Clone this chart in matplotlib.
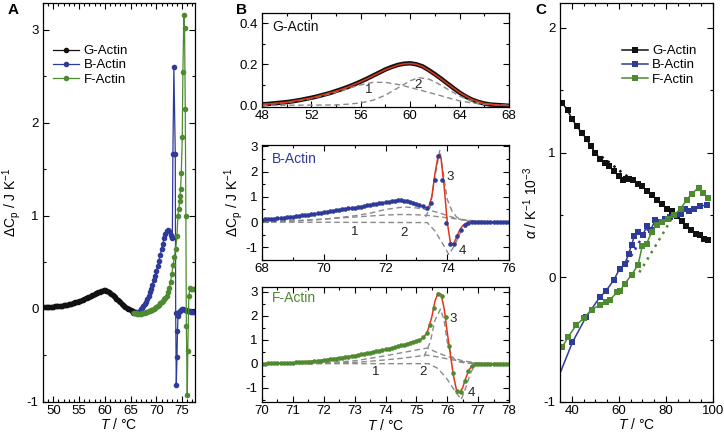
import numpy as np
import matplotlib
matplotlib.use('Agg')
import matplotlib.pyplot as plt
from matplotlib.ticker import MultipleLocator, FormatStrFormatter

plt.rcParams['font.family'] = ['Liberation Sans', 'DejaVu Sans']
plt.rcParams['mathtext.fontset'] = 'custom'
plt.rcParams['mathtext.rm'] = 'Liberation Sans'
plt.rcParams['mathtext.it'] = 'Liberation Sans:italic'
plt.rcParams['mathtext.bf'] = 'Liberation Sans:bold'
plt.rcParams['axes.unicode_minus'] = False
plt.rcParams['font.size'] = 9.5

BLACK = '#111111'
BLUE = '#2e3b98'
GREEN = '#4e8a30'
RED = '#e2361a'
GREY = '#8a8a8a'

# ---------------- Panel A data ----------------
a_g_T = [48.25, 48.5, 48.75, 49.0, 49.25, 49.5, 49.75, 50.0, 50.25, 50.5, 50.75, 51.0,
         51.25, 51.5, 51.75, 52.0, 52.25, 52.5, 52.75, 53.0, 53.25, 53.5, 53.75, 54.0,
         54.25, 54.5, 54.75, 55.0, 55.25, 55.5, 55.75, 56.0, 56.25, 56.5, 56.75, 57.0,
         57.25, 57.5, 57.75, 58.0, 58.25, 58.5, 58.75, 59.0, 59.25, 59.5, 59.75, 60.0,
         60.25, 60.5, 60.75, 61.0, 61.25, 61.5, 61.75, 62.0, 62.25, 62.5, 62.75, 63.0,
         63.25, 63.5, 63.75, 64.0, 64.25, 64.5, 64.75, 65.0, 65.25, 65.5, 65.75, 66.0]
a_g_val = [0.020, 0.020, 0.020, 0.021, 0.022, 0.024, 0.025, 0.026, 0.027, 0.028, 0.030, 0.031,
           0.033, 0.035, 0.037, 0.040, 0.042, 0.045, 0.048, 0.051, 0.055, 0.058, 0.062, 0.066,
           0.070, 0.075, 0.080, 0.085, 0.090, 0.096, 0.102, 0.108, 0.114, 0.120, 0.127, 0.134,
           0.141, 0.148, 0.155, 0.162, 0.169, 0.175, 0.181, 0.187, 0.192, 0.196, 0.199, 0.199,
           0.196, 0.191, 0.184, 0.175, 0.164, 0.152, 0.139, 0.126, 0.112, 0.098, 0.084, 0.070,
           0.057, 0.045, 0.033, 0.022, 0.012, 0.003, -0.005, -0.012, -0.018, -0.023, -0.027, -0.030]

a_b_T = [65.5, 65.75, 66.0, 66.25, 66.5, 66.75, 67.0, 67.25, 67.5, 67.75, 68.0, 68.25,
         68.5, 68.75, 69.0, 69.25, 69.5, 69.75, 70.0, 70.25, 70.5, 70.75, 71.0, 71.25,
         71.5, 71.75, 72.0, 72.25, 72.5, 72.75, 73.0, 73.1, 73.21, 73.4, 73.67, 73.75,
         73.87, 74.0, 74.1, 74.2, 74.35, 74.5, 74.75, 75.0, 75.25, 75.5, 75.75, 76.0,
         76.25, 76.5, 76.75, 77.0, 77.25, 77.5]
a_b_val = [-0.04, -0.045, -0.045, -0.04, -0.03, -0.02, -0.005, 0.01, 0.03, 0.05, 0.08, 0.11,
           0.14, 0.18, 0.22, 0.26, 0.31, 0.36, 0.41, 0.46, 0.52, 0.58, 0.64, 0.70,
           0.76, 0.81, 0.84, 0.85, 0.84, 0.80, 0.77, 0.76, 1.67, 2.60, 1.67, -0.04,
           -0.82, -0.52, -0.24, -0.08, -0.03, -0.02, -0.01, 0.0, 0.0, -0.01, -0.01, -0.02,
           -0.02, -0.02, -0.03, -0.03, -0.03, -0.03]

a_f_T = [65.75, 66.0, 66.25, 66.5, 66.75, 67.0, 67.25, 67.5, 67.75, 68.0, 68.25, 68.5,
         68.75, 69.0, 69.25, 69.5, 69.75, 70.0, 70.25, 70.5, 70.75, 71.0, 71.25, 71.5,
         71.75, 72.0, 72.25, 72.5, 72.75, 73.0, 73.25, 73.5, 73.75, 74.0, 74.18, 74.35,
         74.51, 74.6, 74.7, 74.84, 75.03, 75.15, 75.34, 75.47, 75.61, 75.73, 75.82, 76.0,
         76.1, 76.3, 76.55, 76.75, 77.0, 77.25, 77.5]
a_f_val = [-0.04, -0.045, -0.05, -0.05, -0.05, -0.05, -0.048, -0.045, -0.04, -0.035, -0.03, -0.025,
           -0.02, -0.015, -0.01, 0.0, 0.01, 0.02, 0.03, 0.045, 0.06, 0.075, 0.09, 0.11,
           0.12, 0.14, 0.18, 0.23, 0.29, 0.38, 0.47, 0.56, 0.65, 0.78, 1.00, 1.07,
           1.16, 1.22, 1.29, 1.46, 1.85, 2.55, 3.16, 3.02, 2.15, 1.00, -0.18, -0.93,
           -0.45, 0.14, 0.23, 0.22, 0.22, 0.21, 0.21]

# ---------------- Panel B (G-Actin) ----------------
bg_T = [48.0, 48.5, 49.0, 49.5, 50.0, 50.5, 51.0, 51.5, 52.0, 52.5, 53.0, 53.5, 54.0, 54.5,
        55.0, 55.5, 56.0, 56.5, 57.0, 57.5, 58.0, 58.5, 59.0, 59.5, 60.0, 60.5, 61.0, 61.5,
        62.0, 62.5, 63.0, 63.5, 64.0, 64.5, 65.0, 65.5, 66.0, 66.5, 67.0, 67.5, 68.0]
bg_val = [0.005, 0.007, 0.010, 0.013, 0.016, 0.020, 0.025, 0.031, 0.037, 0.044, 0.052, 0.060,
          0.070, 0.080, 0.091, 0.103, 0.116, 0.130, 0.145, 0.160, 0.175, 0.187, 0.197, 0.203,
          0.205, 0.200, 0.190, 0.172, 0.152, 0.130, 0.107, 0.084, 0.062, 0.043, 0.028, 0.017,
          0.009, 0.004, 0.002, 0.000, -0.002]
bg_fit_T = [48, 50, 52, 54, 55, 56, 57, 58, 59, 59.5, 60, 60.5, 61, 62, 63, 64, 65, 66, 67, 68]
bg_fit_val = [0.004, 0.015, 0.036, 0.069, 0.090, 0.115, 0.144, 0.174, 0.196, 0.202, 0.204,
              0.200, 0.189, 0.151, 0.106, 0.062, 0.028, 0.009, 0.002, -0.002]
bg_c1_T = [48, 50, 52, 54, 55, 56, 57, 58, 59, 60, 61, 62, 63, 64, 65, 66, 68]
bg_c1_val = [0.004, 0.013, 0.033, 0.064, 0.083, 0.100, 0.112, 0.112, 0.102, 0.087, 0.071,
             0.055, 0.038, 0.022, 0.012, 0.005, 0.0]
bg_c2_T = [48, 54, 55, 56, 57, 58, 59, 60, 60.7, 61.5, 62, 63, 64, 65, 66, 67, 68]
bg_c2_val = [0.0, 0.002, 0.006, 0.012, 0.025, 0.050, 0.085, 0.120, 0.135, 0.128, 0.115,
             0.080, 0.045, 0.020, 0.008, 0.002, 0.0]

# ---------------- Panel B (B-Actin) ----------------
bb_T = [68.0, 68.1, 68.2, 68.3, 68.4, 68.5, 68.6, 68.7, 68.8, 68.9,
        69.0, 69.1, 69.2, 69.3, 69.4, 69.5, 69.6, 69.7, 69.8, 69.9,
        70.0, 70.1, 70.2, 70.3, 70.4, 70.5, 70.6, 70.7, 70.8, 70.9,
        71.0, 71.1, 71.2, 71.3, 71.4, 71.5, 71.6, 71.7, 71.8, 71.9,
        72.0, 72.1, 72.2, 72.3, 72.4, 72.5, 72.6, 72.7, 72.8, 72.9,
        73.0, 73.1, 73.2, 73.33, 73.46, 73.59, 73.71, 73.84, 73.97, 74.1,
        74.22, 74.33, 74.45, 74.57, 74.68, 74.8, 74.9, 75.0, 75.1, 75.2,
        75.3, 75.4, 75.5, 75.6, 75.7, 75.8, 75.9, 76.0]
bb_val = [0.10, 0.11, 0.12, 0.13, 0.14, 0.16, 0.17, 0.18, 0.19, 0.21,
          0.22, 0.24, 0.25, 0.27, 0.28, 0.30, 0.32, 0.33, 0.35, 0.37,
          0.39, 0.41, 0.43, 0.44, 0.46, 0.48, 0.50, 0.52, 0.54, 0.55,
          0.57, 0.59, 0.61, 0.63, 0.66, 0.68, 0.70, 0.72, 0.74, 0.77,
          0.79, 0.81, 0.83, 0.85, 0.86, 0.86, 0.85, 0.83, 0.80, 0.77,
          0.73, 0.68, 0.62, 0.54, 0.77, 1.68, 2.63, 1.68, -0.05, -0.87,
          -0.87, -0.56, -0.30, -0.12, -0.04, -0.01, 0.0, 0.0, 0.0, 0.0,
          0.0, 0.0, 0.0, 0.0, 0.0, 0.0, 0.0, 0.0]
bb_fit_T = [68, 69, 70, 71, 72, 72.5, 73, 73.3, 73.4, 73.5, 73.6, 73.7, 73.75, 73.8, 73.9,
            74.0, 74.1, 74.2, 74.3, 74.4, 74.5, 74.6, 74.8, 75, 76]
bb_fit_val = [0.09, 0.21, 0.38, 0.56, 0.78, 0.85, 0.72, 0.56, 0.60, 1.00, 1.90, 2.60, 2.68,
              2.50, 1.40, 0.0, -0.80, -0.88, -0.60, -0.32, -0.14, -0.05, 0.0, 0.0, 0.0]
bb_c1_T = [68, 69, 70, 71, 71.5, 72, 72.5, 73, 73.4, 73.8, 74.2, 74.6, 75, 75.5, 76]
bb_c1_val = [0.0, 0.05, 0.12, 0.20, 0.24, 0.28, 0.30, 0.29, 0.26, 0.20, 0.14, 0.08, 0.04, 0.01, 0.0]
bb_c2_T = [68, 69, 70, 71, 71.5, 72, 72.6, 73, 73.4, 73.8, 74.2, 74.6, 75, 76]
bb_c2_val = [0.0, 0.04, 0.11, 0.25, 0.35, 0.50, 0.60, 0.56, 0.48, 0.34, 0.18, 0.05, 0.02, 0.0]
bb_c3_T = [73.3, 73.45, 73.6, 73.76, 73.9, 74.0, 74.15, 74.3, 74.5, 74.8, 75.2, 76]
bb_c3_val = [0.20, 0.60, 1.80, 2.85, 1.70, 0.90, 0.45, 0.20, 0.10, 0.04, 0.01, 0.0]
bb_c4_T = [68, 73.35, 73.6, 73.85, 74.05, 74.25, 74.45, 74.65, 76]
bb_c4_val = [0.0, -0.02, -0.35, -0.85, -1.28, -0.90, -0.35, -0.05, 0.0]

# ---------------- Panel B (F-Actin) ----------------
bf_T = [70.0, 70.1, 70.2, 70.3, 70.4, 70.5, 70.6, 70.7, 70.8, 70.9,
        71.0, 71.1, 71.2, 71.3, 71.4, 71.5, 71.6, 71.7, 71.8, 71.9,
        72.0, 72.1, 72.2, 72.3, 72.4, 72.5, 72.6, 72.7, 72.8, 72.9,
        73.0, 73.1, 73.2, 73.3, 73.4, 73.5, 73.6, 73.7, 73.8, 73.9,
        74.0, 74.1, 74.2, 74.3, 74.4, 74.5, 74.6, 74.7, 74.8, 74.9,
        75.0, 75.1, 75.22, 75.34, 75.45, 75.57, 75.7, 75.83, 75.95, 76.07,
        76.18, 76.3, 76.43, 76.56, 76.68, 76.8, 76.9, 77.0, 77.1, 77.2,
        77.3, 77.4, 77.5, 77.6, 77.7, 77.8, 77.9, 78.0]
bf_val = [0.00, 0.00, 0.01, 0.01, 0.01, 0.02, 0.02, 0.03, 0.03, 0.04,
          0.04, 0.05, 0.06, 0.06, 0.07, 0.08, 0.09, 0.11, 0.12, 0.13,
          0.15, 0.16, 0.18, 0.19, 0.21, 0.23, 0.25, 0.27, 0.29, 0.32,
          0.34, 0.36, 0.39, 0.41, 0.44, 0.46, 0.49, 0.52, 0.54, 0.57,
          0.60, 0.63, 0.66, 0.69, 0.72, 0.76, 0.79, 0.83, 0.87, 0.91,
          0.95, 0.99, 1.10, 1.28, 1.62, 2.33, 2.92, 2.83, 1.93, 0.75,
          -0.40, -1.15, -1.20, -0.72, -0.30, -0.08, -0.02, 0.0, 0.0, 0.0,
          0.0, 0.0, 0.0, 0.0, 0.0, 0.0, 0.0, 0.0]
bf_fit_T = [70, 71, 72, 73, 74, 74.5, 75, 75.2, 75.35, 75.5, 75.6, 75.7, 75.8, 75.9, 76.0,
            76.1, 76.2, 76.3, 76.4, 76.5, 76.6, 76.7, 76.8, 77, 78]
bf_fit_val = [0.0, 0.04, 0.15, 0.34, 0.60, 0.76, 0.95, 1.05, 1.30, 1.95, 2.60, 2.95, 2.90,
              2.30, 1.30, 0.40, -0.50, -1.10, -1.22, -1.00, -0.60, -0.28, -0.08, 0.0, 0.0]
bf_c1_T = [70, 72, 73, 73.5, 74, 74.5, 75, 75.3, 75.7, 76, 76.5, 77, 78]
bf_c1_val = [0.0, 0.01, 0.05, 0.10, 0.16, 0.22, 0.30, 0.36, 0.28, 0.20, 0.08, 0.01, 0.0]
bf_c2_T = [70, 72, 73, 73.5, 74, 74.5, 75, 75.35, 75.7, 76, 76.5, 77, 78]
bf_c2_val = [0.0, 0.03, 0.12, 0.22, 0.33, 0.45, 0.57, 0.65, 0.45, 0.30, 0.12, 0.02, 0.0]
bf_c3_T = [75.25, 75.45, 75.6, 75.78, 75.9, 76.0, 76.15, 76.3, 76.6, 77.0, 78.0]
bf_c3_val = [0.30, 0.90, 1.80, 2.28, 1.80, 0.90, 0.30, 0.10, 0.02, 0.0, 0.0]
bf_c4_T = [70, 75.4, 75.7, 76.0, 76.2, 76.45, 76.6, 76.75, 76.9, 78]
bf_c4_val = [0.0, 0.0, -0.20, -0.65, -1.05, -1.50, -1.00, -0.40, -0.05, 0.0]

# ---------------- Panel C data ----------------
c_g_T = [35.9, 38.2, 40.1, 42.2, 44.2, 46.3, 48.1, 50.0, 52.0, 54.0, 55.8, 58.0, 60.0,
         61.8, 63.0, 64.3, 66.1, 68.0, 69.9, 72.1, 74.2, 76.1, 78.2, 80.3, 82.4, 84.6,
         86.7, 88.6, 90.6, 92.6, 94.5, 96.3, 98.0]
c_g_val = [1.40, 1.34, 1.27, 1.21, 1.16, 1.11, 1.05, 1.00, 0.95, 0.92, 0.89, 0.85, 0.81,
           0.78, 0.79, 0.79, 0.78, 0.75, 0.73, 0.69, 0.66, 0.62, 0.59, 0.55, 0.53, 0.49,
           0.45, 0.41, 0.38, 0.35, 0.34, 0.31, 0.30]
c_g_dot_T = [50, 54, 58, 62, 66]
c_g_dot_val = [1.00, 0.95, 0.89, 0.83, 0.78]

c_b_T = [35.0, 40.3, 46.0, 51.9, 54.5, 57.9, 60.4, 62.6, 64.2, 65.4, 66.6, 68.3, 70.2,
         71.9, 73.5, 75.5, 77.5, 79.6, 81.8, 84.0, 86.2, 88.2, 90.0, 91.8, 94.5, 97.3]
c_b_val = [-0.77, -0.52, -0.32, -0.16, -0.11, -0.02, 0.07, 0.11, 0.19, 0.26, 0.33, 0.36,
           0.34, 0.41, 0.38, 0.46, 0.44, 0.47, 0.48, 0.50, 0.51, 0.55, 0.53, 0.55, 0.57, 0.58]
c_b_dot_T = [63.5, 66.5, 69.5, 73.0]
c_b_dot_val = [0.12, 0.21, 0.31, 0.40]

c_f_T = [36.0, 38.4, 42.0, 45.0, 48.4, 52.0, 54.5, 56.2, 59.3, 60.4, 62.6, 65.4, 68.2,
         69.9, 71.8, 73.9, 76.0, 78.5, 81.0, 83.5, 86.2, 88.8, 90.9, 94.0, 95.9, 97.7]
c_f_val = [-0.56, -0.48, -0.38, -0.33, -0.26, -0.22, -0.20, -0.18, -0.12, -0.11, -0.05,
           0.02, 0.10, 0.25, 0.27, 0.36, 0.42, 0.44, 0.47, 0.50, 0.55, 0.62, 0.67, 0.72,
           0.68, 0.64]
c_f_dot_T = [68.7, 72.0, 75.5, 79.0, 82.4]
c_f_dot_val = [0.04, 0.14, 0.25, 0.36, 0.47]

labels = ['G-Actin', 'B-Actin', 'F-Actin']

# ---------------- Figure ----------------
W, H = 724, 433
fig = plt.figure(figsize=(W / 100, H / 100), dpi=100)


def rect(l, t, r, b):
    return [l / W, 1 - b / H, (r - l) / W, (b - t) / H]


def style(ax, xmaj, xmin, ymaj, ymin):
    ax.xaxis.set_major_locator(MultipleLocator(xmaj))
    ax.xaxis.set_minor_locator(MultipleLocator(xmin))
    ax.yaxis.set_major_locator(MultipleLocator(ymaj))
    ax.yaxis.set_minor_locator(MultipleLocator(ymin))
    ax.tick_params(which='both', direction='in', top=True, right=True, labelsize=9.5,
                   width=0.8)
    ax.tick_params(which='major', length=4, pad=3)
    ax.tick_params(axis='x', which='major', pad=2)
    ax.tick_params(which='minor', length=2)
    for s in ax.spines.values():
        s.set_linewidth(0.9)


xlab = r'$T$ / °C'
cplab = 'ΔC$_\\mathrm{p}$ / J K$^{-1}$'

# Panel A
axA = fig.add_axes(rect(43, 3, 195, 402))
axA.plot(a_g_T, a_g_val, '-o', color=BLACK, ms=3, lw=0.9, label=labels[0])
axA.plot(a_b_T, a_b_val, '-o', color=BLUE, ms=3, lw=0.9, label=labels[1])
axA.plot(a_f_T, a_f_val, '-o', color=GREEN, ms=3, lw=0.9, label=labels[2])
axA.set_xlim(48, 77.5)
axA.set_ylim(-1, 3.29)
style(axA, 5, 1, 1, 0.5)
axA.set_xlabel(xlab, fontsize=10, labelpad=0)
axA.set_ylabel(cplab, fontsize=10, labelpad=2.5)
axA.legend(loc='upper left', bbox_to_anchor=(0.066, 0.895), frameon=False, fontsize=9.5,
           handlelength=2.0, handletextpad=0.3, labelspacing=0.15, borderpad=0,
           borderaxespad=0, markerscale=1.0)

# Panel B top
axB1 = fig.add_axes(rect(262, 13, 509, 107))
axB1.plot(bg_T, bg_val, '-', color=BLACK, lw=3.2, solid_capstyle='round')
axB1.plot(bg_c1_T, bg_c1_val, '--', color=GREY, lw=1.0, dashes=(4, 2.5))
axB1.plot(bg_c2_T, bg_c2_val, '--', color=GREY, lw=1.0, dashes=(4, 2.5))
axB1.plot(bg_fit_T, bg_fit_val, '-', color=RED, lw=1.1)
axB1.set_xlim(48, 68)
axB1.set_ylim(-0.008, 0.45)
style(axB1, 4, 2, 0.2, 0.1)
axB1.yaxis.set_major_formatter(FormatStrFormatter('%.1f'))
axB1.text(0.04, 0.85, labels[0], transform=axB1.transAxes, color=BLACK, fontsize=10,
          va='center', ha='left')
axB1.text(56.6, 0.073, '1', fontsize=9.5, ha='center', va='center', color='#222222')
axB1.text(60.6, 0.097, '2', fontsize=9.5, ha='center', va='center', color='#222222')

# Panel B middle
axB2 = fig.add_axes(rect(262, 145, 509, 260))
axB2.plot(bb_c1_T, bb_c1_val, '--', color=GREY, lw=1.0, dashes=(4, 2.5))
axB2.plot(bb_c2_T, bb_c2_val, '--', color=GREY, lw=1.0, dashes=(4, 2.5))
axB2.plot(bb_c3_T, bb_c3_val, '--', color=GREY, lw=1.0, dashes=(4, 2.5))
axB2.plot(bb_c4_T, bb_c4_val, '--', color=GREY, lw=1.0, dashes=(4, 2.5))
axB2.plot(bb_fit_T, bb_fit_val, '-', color=RED, lw=1.1)
axB2.plot(bb_T, bb_val, 'o', color=BLUE, ms=3.3, mew=0)
axB2.set_xlim(68, 76)
axB2.set_ylim(-1.5, 3.05)
style(axB2, 2, 1, 1, 0.5)
axB2.set_ylabel(cplab, fontsize=10, labelpad=0.5)
axB2.text(0.04, 0.88, labels[1], transform=axB2.transAxes, color=BLUE, fontsize=10,
          va='center', ha='left')
for t, v, s in [(71.0, -0.38, '1'), (72.6, -0.42, '2'), (74.1, 1.77, '3'), (74.5, -1.16, '4')]:
    axB2.text(t, v, s, fontsize=9.5, ha='center', va='center', color='#222222')

# Panel B bottom
axB3 = fig.add_axes(rect(262, 287, 509, 402))
axB3.plot(bf_c1_T, bf_c1_val, '--', color=GREY, lw=1.0, dashes=(4, 2.5))
axB3.plot(bf_c2_T, bf_c2_val, '--', color=GREY, lw=1.0, dashes=(4, 2.5))
axB3.plot(bf_c3_T, bf_c3_val, '--', color=GREY, lw=1.0, dashes=(4, 2.5))
axB3.plot(bf_c4_T, bf_c4_val, '--', color=GREY, lw=1.0, dashes=(4, 2.5))
axB3.plot(bf_fit_T, bf_fit_val, '-', color=RED, lw=1.1)
axB3.plot(bf_T, bf_val, 'o', color=GREEN, ms=3.3, mew=0)
axB3.set_xlim(70, 78)
axB3.set_ylim(-1.6, 3.2)
style(axB3, 1, 0.5, 1, 0.5)
axB3.set_xlabel(xlab, fontsize=10, labelpad=1)
axB3.text(0.04, 0.9, labels[2], transform=axB3.transAxes, color=GREEN, fontsize=10,
          va='center', ha='left')
for t, v, s in [(73.67, -0.36, '1'), (75.23, -0.36, '2'), (76.2, 1.86, '3'), (76.77, -1.24, '4')]:
    axB3.text(t, v, s, fontsize=9.5, ha='center', va='center', color='#222222')

# Panel C
axC = fig.add_axes(rect(560, 3, 713, 402))
axC.plot(c_g_dot_T, c_g_dot_val, linestyle=(0, (1, 2)), color=BLACK, lw=1.8)
axC.plot(c_b_dot_T, c_b_dot_val, linestyle=(0, (1, 2)), color=BLUE, lw=1.8)
axC.plot(c_f_dot_T, c_f_dot_val, linestyle=(0, (1, 2)), color=GREEN, lw=1.8)
axC.plot(c_g_T, c_g_val, '-s', color=BLACK, ms=4.6, lw=1.1, mew=0, label=labels[0])
axC.plot(c_b_T, c_b_val, '-s', color=BLUE, ms=4.6, lw=1.1, mew=0,
         markevery=list(range(1, len(c_b_T))), label=labels[1])
axC.plot(c_f_T, c_f_val, '-s', color=GREEN, ms=4.6, lw=1.1, mew=0, label=labels[2])
axC.set_xlim(35, 100)
axC.set_ylim(-1, 2.2)
style(axC, 20, 5, 1, 0.5)
axC.set_xlabel(xlab, fontsize=10, labelpad=0)
axC.set_ylabel(r'$\alpha$ / K$^{-1}$ 10$^{-3}$', fontsize=10, labelpad=3)
axC.legend(loc='upper left', bbox_to_anchor=(0.405, 0.895), frameon=False, fontsize=9.5,
           handlelength=2.0, handletextpad=0.3, labelspacing=0.15, borderpad=0,
           borderaxespad=0)

# Panel letters
fig.text(8 / W, 1 - 10 / H, 'A', fontsize=11, fontweight='bold', va='center', ha='left')
fig.text(236 / W, 1 - 10 / H, 'B', fontsize=11, fontweight='bold', va='center', ha='left')
fig.text(535 / W, 1 - 10 / H, 'C', fontsize=11, fontweight='bold', va='center', ha='left')

fig.savefig('out.png', dpi=100)
